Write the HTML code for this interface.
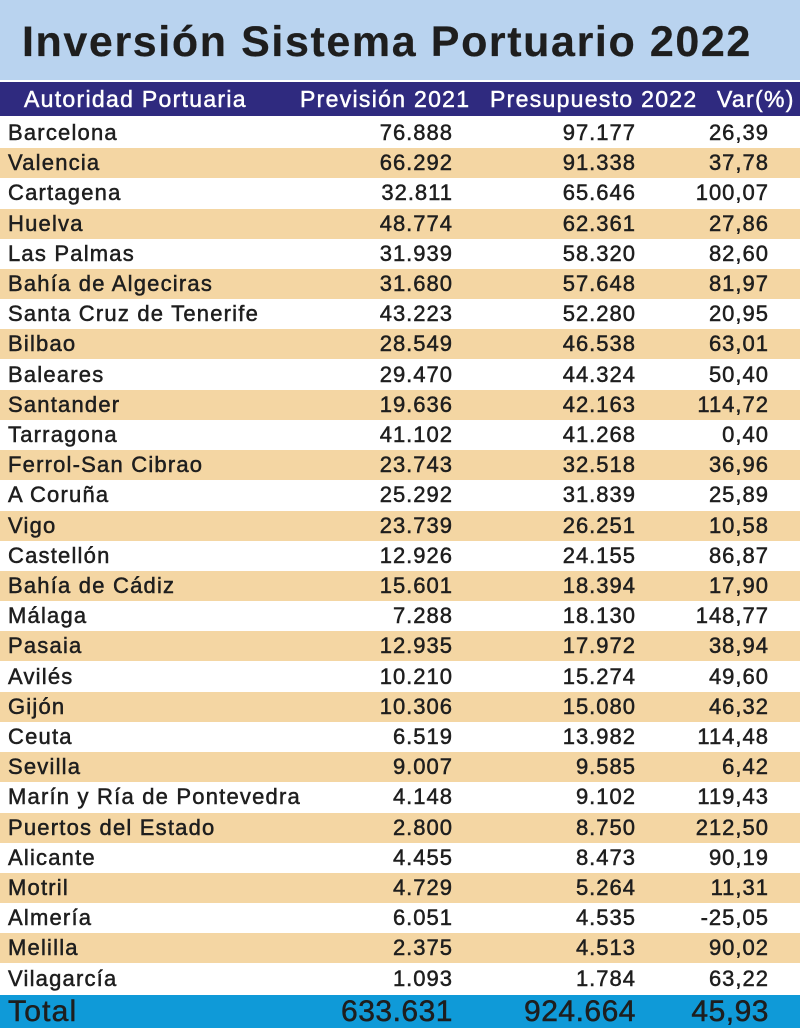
<!DOCTYPE html>
<html><head><meta charset="utf-8"><style>
body{margin:0;width:800px;height:1031px;overflow:hidden;background:#fff;font-family:"Liberation Sans",sans-serif;color:#1e1e1e}
.t{position:absolute;left:0;top:0;width:800px;height:80px;background:#b9d3ef}
.t span{position:absolute;left:22px;top:18px;font-size:43px;font-weight:bold;color:#1e1e1e;letter-spacing:1.6px;-webkit-text-stroke:0.2px #1e1e1e}
.r{position:absolute;left:0;width:800px;height:30px;font-size:22px;letter-spacing:1px;-webkit-text-stroke:0.5px #1e1e1e}
.r div{position:absolute;top:0;line-height:30px;white-space:nowrap}
.a{left:8px;letter-spacing:1.2px}.b{right:347px}.c{right:164px}.d{right:31px}
.h{background:#2f2a7f;color:#fff;top:82px;height:34px;-webkit-text-stroke:0.5px #fff;letter-spacing:1.3px}
.h div{line-height:34px;font-size:23px}
.y{background:#f4d6a3}
.tot{background:#0f9ad8;top:995px;height:33px;font-size:30px;letter-spacing:0.5px}
.tot div{line-height:33px}
</style></head><body>
<div class="t"><span>Inversión Sistema Portuario 2022</span></div>
<div class="r h"><div style="left:24px">Autoridad Portuaria</div><div style="left:300px">Previsión 2021</div><div style="left:490px">Presupuesto 2022</div><div style="left:717px">Var(%)</div></div>
<div id="rows"></div>
<script>
var d=[["Barcelona","76.888","97.177","26,39"],["Valencia","66.292","91.338","37,78"],["Cartagena","32.811","65.646","100,07"],["Huelva","48.774","62.361","27,86"],["Las Palmas","31.939","58.320","82,60"],["Bahía de Algeciras","31.680","57.648","81,97"],["Santa Cruz de Tenerife","43.223","52.280","20,95"],["Bilbao","28.549","46.538","63,01"],["Baleares","29.470","44.324","50,40"],["Santander","19.636","42.163","114,72"],["Tarragona","41.102","41.268","0,40"],["Ferrol-San Cibrao","23.743","32.518","36,96"],["A Coruña","25.292","31.839","25,89"],["Vigo","23.739","26.251","10,58"],["Castellón","12.926","24.155","86,87"],["Bahía de Cádiz","15.601","18.394","17,90"],["Málaga","7.288","18.130","148,77"],["Pasaia","12.935","17.972","38,94"],["Avilés","10.210","15.274","49,60"],["Gijón","10.306","15.080","46,32"],["Ceuta","6.519","13.982","114,48"],["Sevilla","9.007","9.585","6,42"],["Marín y Ría de Pontevedra","4.148","9.102","119,43"],["Puertos del Estado","2.800","8.750","212,50"],["Alicante","4.455","8.473","90,19"],["Motril","4.729","5.264","11,31"],["Almería","6.051","4.535","-25,05"],["Melilla","2.375","4.513","90,02"],["Vilagarcía","1.093","1.784","63,22"]];
var h="";d.forEach(function(r,i){h+='<div class="r'+(i%2?' y':'')+'" style="top:'+(118+i*30.2).toFixed(1)+'px"><div class="a">'+r[0]+'</div><div class="b">'+r[1]+'</div><div class="c">'+r[2]+'</div><div class="d">'+r[3]+'</div></div>';});
document.getElementById("rows").innerHTML=h;
</script>
<div class="r tot"><div class="a">Total</div><div class="b">633.631</div><div class="c">924.664</div><div class="d">45,93</div></div>
</body></html>
